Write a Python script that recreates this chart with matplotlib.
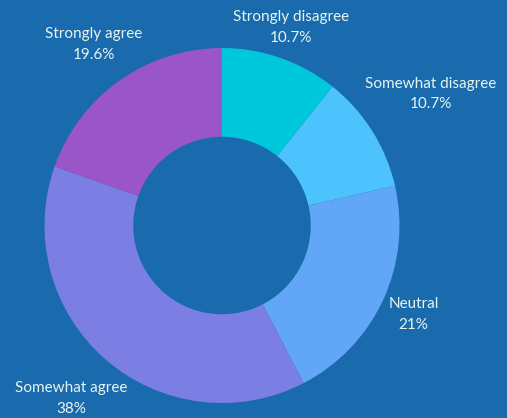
import numpy as np
import matplotlib.pyplot as plt

# survey responses, clockwise from 12 o'clock
labels = ['Strongly disagree', 'Somewhat disagree', 'Neutral', 'Somewhat agree', 'Strongly agree']
shares = [10.7, 10.7, 21, 38, 19.6]
share_text = ['10.7%', '10.7%', '21%', '38%', '19.6%']

colors = ['#00c8dc', '#4cc3fd', '#62a6f7', '#7b7fe3', '#9a55c8']
label_dist = [1.18, 1.39, 1.19, 1.29, 1.25]
bg = '#1a6aae'
txt = '#e8f5ef'

fig = plt.figure(figsize=(5.07, 4.18), dpi=100, facecolor=bg)
ax = fig.add_axes([0, 0, 1, 1])
ax.set_facecolor(bg)

wedges, _ = ax.pie(shares, colors=colors, startangle=90, counterclock=False,
                   radius=1, wedgeprops=dict(width=0.5, linewidth=0))

for w, name, pct, d in zip(wedges, labels, share_text, label_dist):
    ang = np.deg2rad((w.theta1 + w.theta2) / 2)
    ax.text(d * np.cos(ang), d * np.sin(ang), name + '\n' + pct,
            ha='center', va='center', color=txt, fontsize=11,
            family='Lato', linespacing=1.6)

ax.set_xlim(-1.2507, 1.6056)
ax.set_ylim(-1.0845, 1.2704)
ax.set_aspect('auto')
ax.axis('off')

fig.savefig('out.png', dpi=100, facecolor=bg)
